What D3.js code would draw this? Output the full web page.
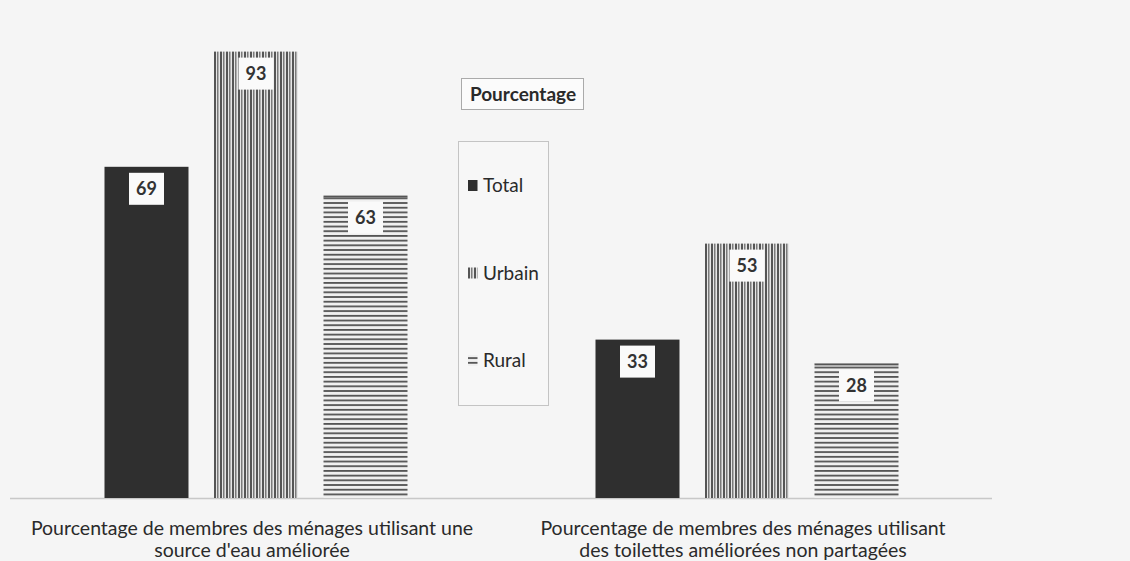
<!DOCTYPE html>
<html><head><meta charset="utf-8">
<script src="https://cdn.jsdelivr.net/npm/d3@7"></script>
<style>
html,body{margin:0;padding:0;background:#f5f5f5;}
svg{display:block;}
</style></head>
<body>
<svg id="c" width="1130" height="561"></svg>
<script>
const categories = [
  ["Pourcentage de membres des ménages utilisant une", "source d'eau améliorée"],
  ["Pourcentage de membres des ménages utilisant", "des toilettes améliorées non partagées"]
];
const seriesNames = ["Total", "Urbain", "Rural"];
const totalValues = [69, 33];
const urbainValues = [93, 53];
const ruralValues = [63, 28];
const legendTitle = "Pourcentage";

const FONT = "Lato, 'Open Sans', sans-serif";
const svg = d3.select("#c");
const W = 1130, H = 561;
svg.append("rect").attr("width", W).attr("height", H).attr("fill", "#f5f5f5");

const defs = svg.append("defs");
// vertical lines pattern (Urbain)
const pv = defs.append("pattern").attr("id", "pv").attr("patternUnits", "userSpaceOnUse")
  .attr("width", 6).attr("height", 6);
pv.append("rect").attr("width", 6).attr("height", 6).attr("fill", "#e6e6e6");
pv.append("rect").attr("x", 0).attr("width", 2).attr("height", 6).attr("fill", "#555");
pv.append("rect").attr("x", 3).attr("width", 1.5).attr("height", 6).attr("fill", "#7a7a7a");
// horizontal lines pattern (Rural)
const ph = defs.append("pattern").attr("id", "ph").attr("patternUnits", "userSpaceOnUse")
  .attr("width", 8).attr("height", 4.7);
ph.append("rect").attr("width", 8).attr("height", 4.7).attr("fill", "#f0f0f0");
ph.append("rect").attr("y", 0).attr("width", 8).attr("height", 1.8).attr("fill", "#555");

const fills = ["#2f2f2f", "url(#pv)", "url(#ph)"];

const data = categories.map((c, i) => ({
  cat: i,
  values: [totalValues[i], urbainValues[i], ruralValues[i]]
}));

const baseline = 498;
const y = d3.scaleLinear().domain([0, 100]).range([baseline, 18]);
const groupCenters = [256, 747];
const x0 = d3.scaleOrdinal().domain([0, 1]).range(groupCenters);
const x1 = d3.scaleBand().domain(seriesNames).range([-151.5, 151.5]).paddingInner(0.233);

// axis line
svg.append("line").attr("x1", 10).attr("x2", 992).attr("y1", baseline + 0.5).attr("y2", baseline + 0.5)
  .attr("stroke", "#c8c8c8").attr("stroke-width", 1.5);

const g = svg.selectAll("g.grp").data(data).enter().append("g")
  .attr("transform", d => `translate(${x0(d.cat)},0)`);

g.each(function(d) {
  const gg = d3.select(this);
  d.values.forEach((v, j) => {
    const bx = x1(seriesNames[j]);
    const bw = x1.bandwidth();
    gg.append("rect").attr("x", bx).attr("y", y(v)).attr("width", bw).attr("height", baseline - y(v))
      .attr("fill", fills[j]);
    if (j === 2) {
      gg.append("rect").attr("x", bx).attr("y", y(v)).attr("width", bw).attr("height", 1.8).attr("fill", "#555");
    }
    const cx = bx + bw / 2, cy = y(v) + 22;
    gg.append("rect").attr("x", cx - 17.5).attr("y", cy - 16).attr("width", 35).attr("height", 32)
      .attr("fill", "#fafafa");
    gg.append("text").attr("x", cx).attr("y", cy + 6.5).attr("text-anchor", "middle")
      .attr("font-family", FONT).attr("font-weight", "bold")
      .attr("font-size", 18).attr("fill", "#333").text(v);
  });
});

// category labels
categories.forEach((lines, i) => {
  const t = svg.append("text").attr("text-anchor", "middle")
    .attr("font-family", FONT).attr("font-size", 19.5).attr("fill", "#2a2a2a");
  lines.forEach((l, k) => {
    t.append("tspan").attr("x", x0(i) - 4).attr("y", 535 + k * 21.5).text(l);
  });
});

// legend title
svg.append("rect").attr("x", 461.5).attr("y", 78.5).attr("width", 122).attr("height", 31)
  .attr("fill", "#fbfbfb").attr("stroke", "#aaa");
svg.append("text").attr("x", 523).attr("y", 101).attr("text-anchor", "middle")
  .attr("font-family", FONT).attr("font-weight", "bold").attr("font-size", 19)
  .attr("fill", "#2a2a2a").text(legendTitle);

// legend box
svg.append("rect").attr("x", 458.5).attr("y", 141.5).attr("width", 90).attr("height", 264)
  .attr("fill", "#f7f7f7").attr("stroke", "#c4c4c4");
const ly = d3.scalePoint().domain(seriesNames).range([192, 367]);
seriesNames.forEach((s, j) => {
  svg.append("rect").attr("x", 468).attr("y", ly(s) - 12).attr("width", 9.5).attr("height", 11)
    .attr("fill", fills[j]);
  svg.append("text").attr("x", 483).attr("y", ly(s))
    .attr("font-family", FONT).attr("font-size", 19).attr("fill", "#2a2a2a").text(s);
});
</script>
</body></html>
